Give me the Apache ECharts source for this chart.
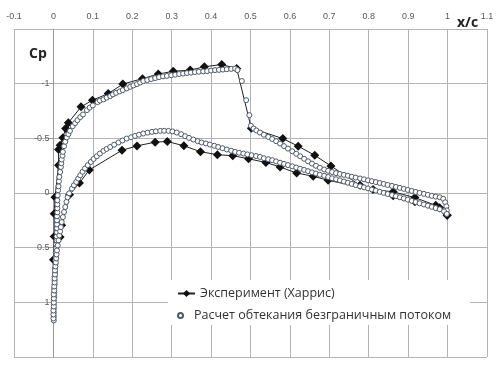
<!DOCTYPE html>
<html>
<head>
<meta charset="utf-8">
<script src="https://cdn.jsdelivr.net/npm/echarts@6/dist/echarts.min.js"></script>
<style>
  html, body { margin: 0; padding: 0; background: #fff; }
  #chart { width: 503px; height: 372px; }
</style>
</head>
<body>
<div id="chart"></div>
<script>
// x/c ticks and Cp ticks
const xTicks = { min: -0.1, max: 1.1, step: 0.1 };
const cpTicks = { min: -1.5, max: 1.5, step: 0.5 };
// Cp labels at both ends of the axis, shown as labels of an invisible series at x/c = 0
const cpEndLabels = [-1.5, 1.5];

const expName = "Эксперимент (Харрис)";
const calcName = "Расчет обтекания безграничным потоком";

// experiment, upper surface from trailing edge to stagnation point
const expUpper = [
  [0.999, 0.204], [0.980, 0.136], [0.917, 0.081], [0.862, 0.026], [0.778, -0.071],
  [0.704, -0.247], [0.663, -0.345], [0.621, -0.428], [0.582, -0.498], [0.502, -0.593],
  [0.465, -1.138], [0.427, -1.175], [0.383, -1.155], [0.347, -1.124], [0.304, -1.113],
  [0.266, -1.088], [0.226, -1.046], [0.176, -0.996], [0.139, -0.909], [0.099, -0.849],
  [0.070, -0.788], [0.038, -0.643], [0.031, -0.590], [0.024, -0.506], [0.017, -0.437],
  [0.013, -0.398], [0.013, -0.254], [0.004, 0.039], [0.002, 0.189], [0.002, 0.397],
  [0.000, 0.610]
];
// experiment, lower surface from stagnation point to trailing edge
const expLower = [
  [0.017, 0.403], [0.021, 0.296], [0.041, 0.016], [0.066, -0.091], [0.091, -0.211],
  [0.174, -0.391], [0.212, -0.431], [0.258, -0.465], [0.289, -0.471], [0.331, -0.432],
  [0.373, -0.378], [0.416, -0.350], [0.455, -0.341], [0.495, -0.313], [0.539, -0.279],
  [0.575, -0.238], [0.617, -0.183], [0.659, -0.153], [0.697, -0.116], [0.811, -0.031],
  [0.862, -0.011], [0.917, 0.042], [0.970, 0.113], [0.999, 0.204]
];

// computation, upper surface
const calcUpper = [
  [0.001, 1.166], [0.001, 1.130], [0.001, 1.093], [0.001, 1.057], [0.001, 1.020],
  [0.001, 0.983], [0.002, 0.947], [0.002, 0.910], [0.002, 0.873], [0.003, 0.837],
  [0.003, 0.800], [0.003, 0.763], [0.004, 0.727], [0.004, 0.690], [0.005, 0.653],
  [0.005, 0.617], [0.006, 0.580], [0.006, 0.543], [0.007, 0.507], [0.007, 0.470],
  [0.008, 0.433], [0.008, 0.397], [0.009, 0.360], [0.009, 0.323], [0.009, 0.287],
  [0.009, 0.250], [0.009, 0.213], [0.010, 0.177], [0.010, 0.140], [0.010, 0.104],
  [0.010, 0.067], [0.011, 0.021], [0.012, -0.025], [0.013, -0.061], [0.014, -0.107],
  [0.015, -0.147], [0.017, -0.192], [0.019, -0.238], [0.020, -0.272], [0.021, -0.306],
  [0.023, -0.341], [0.024, -0.376], [0.027, -0.428], [0.030, -0.469], [0.034, -0.508],
  [0.038, -0.538], [0.042, -0.568], [0.049, -0.611], [0.055, -0.639], [0.061, -0.666],
  [0.068, -0.694], [0.075, -0.718], [0.085, -0.758], [0.092, -0.781], [0.100, -0.801],
  [0.112, -0.831], [0.118, -0.845], [0.127, -0.856], [0.135, -0.872], [0.144, -0.886],
  [0.151, -0.902], [0.159, -0.916], [0.168, -0.929], [0.176, -0.941], [0.186, -0.957],
  [0.195, -0.971], [0.203, -0.984], [0.212, -0.996], [0.220, -1.010], [0.228, -1.024],
  [0.238, -1.033], [0.248, -1.042], [0.258, -1.051], [0.268, -1.060], [0.278, -1.067],
  [0.288, -1.071], [0.299, -1.077], [0.309, -1.082], [0.319, -1.088], [0.329, -1.092],
  [0.339, -1.097], [0.349, -1.101], [0.359, -1.106], [0.369, -1.109], [0.380, -1.112],
  [0.390, -1.115], [0.400, -1.120], [0.410, -1.124], [0.420, -1.126], [0.430, -1.129],
  [0.440, -1.132], [0.451, -1.135], [0.461, -1.138], [0.467, -1.124], [0.478, -1.024],
  [0.489, -0.849], [0.497, -0.712], [0.501, -0.615], [0.508, -0.590], [0.515, -0.572],
  [0.524, -0.553], [0.534, -0.533], [0.545, -0.513], [0.555, -0.494], [0.565, -0.474],
  [0.575, -0.452], [0.585, -0.429], [0.595, -0.406], [0.606, -0.382], [0.616, -0.359],
  [0.626, -0.336], [0.636, -0.313], [0.646, -0.290], [0.656, -0.269], [0.666, -0.249],
  [0.676, -0.231], [0.687, -0.215], [0.697, -0.203], [0.707, -0.192], [0.717, -0.182],
  [0.727, -0.174], [0.737, -0.166], [0.747, -0.158], [0.757, -0.149], [0.767, -0.141],
  [0.778, -0.133], [0.788, -0.125], [0.798, -0.116], [0.808, -0.108], [0.818, -0.100],
  [0.828, -0.092], [0.838, -0.083], [0.848, -0.074], [0.859, -0.065], [0.869, -0.056],
  [0.879, -0.047], [0.889, -0.038], [0.899, -0.028], [0.909, -0.019], [0.919, -0.010],
  [0.929, -0.001], [0.940, 0.008], [0.950, 0.017], [0.960, 0.026], [0.970, 0.033],
  [0.980, 0.039], [0.989, 0.053], [0.994, 0.085], [0.997, 0.122], [0.998, 0.159]
];

// computation, lower surface
const calcLower = [
  [0.000, 1.148], [0.000, 1.112], [0.000, 1.075], [0.001, 1.038], [0.001, 1.002],
  [0.001, 0.965], [0.001, 0.928], [0.002, 0.892], [0.002, 0.855], [0.003, 0.818],
  [0.003, 0.782], [0.004, 0.745], [0.004, 0.708], [0.005, 0.672], [0.006, 0.635],
  [0.007, 0.598], [0.008, 0.562], [0.009, 0.525], [0.011, 0.479], [0.013, 0.433],
  [0.015, 0.388], [0.017, 0.351], [0.019, 0.312], [0.021, 0.266], [0.024, 0.220],
  [0.027, 0.174], [0.030, 0.128], [0.033, 0.081], [0.036, 0.039], [0.040, 0.003],
  [0.047, -0.040], [0.052, -0.071], [0.058, -0.101], [0.063, -0.132], [0.068, -0.162],
  [0.074, -0.194], [0.080, -0.224], [0.087, -0.254], [0.095, -0.284], [0.102, -0.311],
  [0.110, -0.336], [0.118, -0.361], [0.127, -0.385], [0.135, -0.403], [0.144, -0.421],
  [0.154, -0.442], [0.165, -0.462], [0.175, -0.480], [0.186, -0.498], [0.197, -0.510],
  [0.207, -0.522], [0.217, -0.533], [0.228, -0.544], [0.239, -0.552], [0.250, -0.559],
  [0.260, -0.564], [0.271, -0.568], [0.281, -0.569], [0.292, -0.568], [0.302, -0.563],
  [0.313, -0.553], [0.324, -0.538], [0.334, -0.520], [0.344, -0.504], [0.355, -0.489],
  [0.366, -0.474], [0.376, -0.462], [0.387, -0.453], [0.397, -0.443], [0.408, -0.432],
  [0.418, -0.421], [0.429, -0.410], [0.440, -0.398], [0.451, -0.387], [0.461, -0.376],
  [0.471, -0.368], [0.482, -0.361], [0.492, -0.353], [0.503, -0.345], [0.514, -0.338],
  [0.524, -0.330], [0.534, -0.318], [0.545, -0.309], [0.555, -0.300], [0.565, -0.289],
  [0.575, -0.277], [0.585, -0.266], [0.595, -0.255], [0.606, -0.244], [0.616, -0.233],
  [0.626, -0.222], [0.636, -0.211], [0.646, -0.200], [0.656, -0.189], [0.666, -0.178],
  [0.676, -0.167], [0.687, -0.157], [0.697, -0.146], [0.707, -0.135], [0.717, -0.126],
  [0.727, -0.116], [0.737, -0.105], [0.747, -0.094], [0.757, -0.083], [0.767, -0.072],
  [0.778, -0.061], [0.788, -0.052], [0.798, -0.042], [0.808, -0.032], [0.818, -0.022],
  [0.828, -0.011], [0.838, -0.001], [0.848, 0.009], [0.859, 0.019], [0.869, 0.029],
  [0.879, 0.039], [0.889, 0.050], [0.899, 0.061], [0.909, 0.072], [0.919, 0.083],
  [0.929, 0.094], [0.940, 0.105], [0.950, 0.116], [0.960, 0.127], [0.970, 0.138],
  [0.980, 0.149], [0.991, 0.168], [0.998, 0.191]
];

const gridColor = "#b4b4b4";
const labelColor = "#595959";
const labelFont = "Liberation Sans";

const chart = echarts.init(document.getElementById("chart"), null, { renderer: "canvas" });

const option = {
  animation: false,
  backgroundColor: "#fff",
  grid: { left: 14, right: 16, top: 29, bottom: 15 },
  xAxis: {
    type: "value",
    min: xTicks.min,
    max: xTicks.max,
    interval: xTicks.step,
    position: "top",
    axisLine: { show: true, onZero: false, lineStyle: { color: gridColor } },
    axisTick: { show: false },
    axisLabel: {
      color: labelColor,
      fontSize: 9,
      fontFamily: labelFont,
      margin: 8,
      formatter: (v) => String(Math.round(v * 10) / 10)
    },
    splitLine: { show: true, lineStyle: { color: gridColor, width: 1 } }
  },
  yAxis: {
    type: "value",
    inverse: true,
    min: cpTicks.min,
    max: cpTicks.max,
    interval: cpTicks.step,
    position: "left",
    // the axis crosses x/c = 0, inside the plot
    offset: -39.4,
    axisLine: { show: true, onZero: false, lineStyle: { color: "#999" } },
    axisTick: { show: true, length: 4, lineStyle: { color: "#999" } },
    axisLabel: {
      color: labelColor,
      fontSize: 9,
      fontFamily: labelFont,
      margin: 4,
      showMinLabel: false,
      showMaxLabel: false
    },
    splitLine: { show: true, lineStyle: { color: gridColor, width: 1 } }
  },
  legend: [
    {
      data: [expName],
      left: 172,
      top: 282,
      itemWidth: 17,
      itemHeight: 9,
      textStyle: { fontSize: 12.5, color: "#333", fontFamily: "Open Sans" }
    },
    {
      data: [calcName],
      left: 172,
      top: 304,
      itemWidth: 17,
      itemHeight: 5,
      textStyle: { fontSize: 12.5, color: "#333", fontFamily: "Open Sans" }
    }
  ],
  graphic: [
    {
      id: "legendBack",
      type: "rect",
      shape: { x: 168, y: 280, width: 302, height: 45 },
      style: { fill: "#fff" },
      z: 3
    },
    {
      id: "xName",
      type: "text",
      left: 457,
      top: 16,
      style: { text: "x/c", font: "bold 14px 'Open Sans'", fill: "#222" }
    },
    {
      id: "yName",
      type: "text",
      left: 29,
      top: 47,
      style: { text: "Cp", font: "bold 14px 'Open Sans'", fill: "#222" }
    }
  ],
  series: [
    {
      name: expName,
      type: "line",
      data: expUpper.concat(expLower),
      symbol: "diamond",
      symbolSize: 9,
      showAllSymbol: true,
      itemStyle: { color: "#111" },
      lineStyle: { color: "#222", width: 1 },
      z: 5
    },
    {
      name: calcName,
      type: "scatter",
      data: calcUpper.concat(calcLower),
      symbol: "circle",
      symbolSize: 5,
      itemStyle: { color: "#fff", borderColor: "#4f5a68", borderWidth: 1, opacity: 1 },
      z: 6
    },
    {
      // end labels of the Cp axis
      name: "cpEnds",
      type: "scatter",
      data: cpEndLabels.map((v) => [0, v]),
      symbolSize: 1,
      itemStyle: { opacity: 0 },
      silent: true,
      clip: false,
      z: 4,
      label: {
        show: true,
        position: "left",
        distance: 8,
        color: labelColor,
        fontSize: 9,
        fontFamily: labelFont,
        formatter: (p) => String(p.value[1])
      }
    }
  ]
};

chart.setOption(option);
window.addEventListener("resize", chart.resize);
</script>
</body>
</html>
